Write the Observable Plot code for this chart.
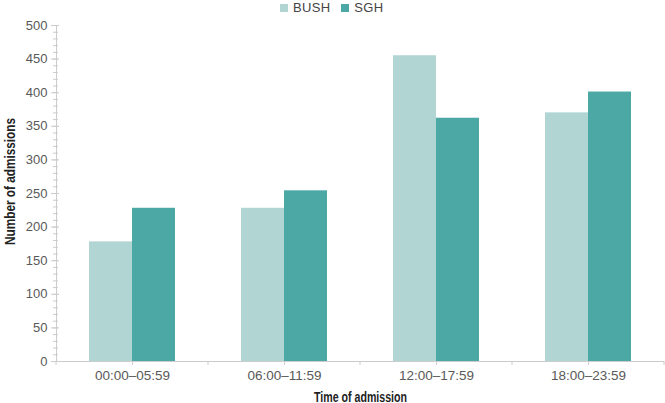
<!DOCTYPE html>
<html>
<head>
<meta charset="utf-8">
<script src="https://cdn.jsdelivr.net/npm/d3@7"></script>
<script src="https://cdn.jsdelivr.net/npm/@observablehq/plot@0.6"></script>
<style>
  body { margin: 0; background: #fff; width: 665px; height: 403px; overflow: hidden; }
  #legend { height: 16px; display: flex; align-items: center; padding-left: 280px; box-sizing: border-box;
            font-family: "Liberation Sans", Arial, sans-serif; font-size: 13px; color: #444; letter-spacing: 0.3px; }
  #legend .sw { width: 8px; height: 8px; display: inline-block; margin-right: 5px; }
  #legend .item { display: flex; align-items: center; margin-right: 11px; line-height: 14px; }
  .boldlabel, g[aria-label="fx-axis label"] text {
    font-family: "Liberation Sans", Arial, sans-serif;
    font-weight: bold; fill: #222; font-size: 14px;
  }
  g[aria-label="fx-axis tick label"] text { font-size: 13.5px; }
</style>
</head>
<body>
<div id="legend"></div>
<div id="chart"></div>
<script>
const times = ["00:00–05:59", "06:00–11:59", "12:00–17:59", "18:00–23:59"];
const hospitals = ["BUSH", "SGH"];
const bush = [178, 228, 455, 370];
const sgh = [228, 254, 362, 401];
const colors = ["#b0d5d3", "#4ca8a5"];
const majorTicks = [0, 50, 100, 150, 200, 250, 300, 350, 400, 450, 500];
const minorTicks = d3.range(0, 501, 10);
const yLabel = "Number of admissions";
const xLabel = "Time of admission";

const rows = [];
times.forEach((t, i) => {
  rows.push({time: t, hospital: "BUSH", value: bush[i]});
  rows.push({time: t, hospital: "SGH", value: sgh[i]});
});

// legend
const legend = d3.select("#legend");
hospitals.forEach((h, i) => {
  const it = legend.append("span").attr("class", "item");
  it.append("span").attr("class", "sw").style("background", colors[i]);
  it.append("span").text(h);
});

const axisColor = "#cccccc";
const textColor = "#595959";

const plot = Plot.plot({
  width: 665,
  height: 387,
  marginLeft: 55,
  marginRight: 1,
  marginTop: 9,
  marginBottom: 42,
  style: {fontFamily: "'Liberation Sans', Arial, sans-serif", fontSize: "13px", color: textColor, background: "white", overflow: "visible"},
  fx: {domain: times, padding: 0},
  x: {domain: hospitals, paddingInner: 0, paddingOuter: 0.73, axis: null},
  y: {domain: [0, 500], axis: null},
  color: {domain: hospitals, range: colors},
  marks: [
    Plot.barY(rows, {fx: "time", x: "hospital", y: "value", fill: "hospital"}),
    Plot.ruleY([0], {stroke: axisColor}),
    Plot.frame({anchor: "left", stroke: axisColor, facetAnchor: "left"}),
    Plot.axisY(minorTicks, {tickSize: 5, dx: 2, text: null, stroke: axisColor, label: null}),
    Plot.axisY(majorTicks, {tickSize: 8, dx: 3, text: null, stroke: axisColor, label: null}),
    Plot.axisY(majorTicks, {tickSize: 0, tickPadding: 9, fill: textColor, label: null}),
    Plot.axisFx({anchor: "bottom", tickSize: 4, tickPadding: 5, stroke: axisColor, fill: textColor,
                 label: xLabel, labelAnchor: "center", labelOffset: 40}),
    Plot.text([yLabel], {frameAnchor: "left", facetAnchor: "left", rotate: -90, dx: -46, dy: -12,
                         textAnchor: "middle", text: d => d, className: "boldlabel", fill: "#222"})
  ]
});

document.getElementById("chart").appendChild(plot);

// condensed look for the axis titles
d3.select(plot).selectAll('g[aria-label="fx-axis label"] text')
  .attr("textLength", 93).attr("lengthAdjust", "spacingAndGlyphs");
d3.select(plot).selectAll('.boldlabel text')
  .attr("textLength", 127).attr("lengthAdjust", "spacingAndGlyphs");

// boundary ticks between categories, placed with the fx scale
const fx = plot.scale("fx");
const y = plot.scale("y");
const y0 = y.apply(0);
const edges = times.map(t => fx.apply(t)).concat([fx.apply(times[times.length - 1]) + fx.bandwidth]);
d3.select(plot).append("g").selectAll("line").data(edges).join("line")
  .attr("x1", d => d).attr("x2", d => d)
  .attr("y1", y0).attr("y2", y0 + 4)
  .attr("stroke", axisColor);
</script>
</body>
</html>
